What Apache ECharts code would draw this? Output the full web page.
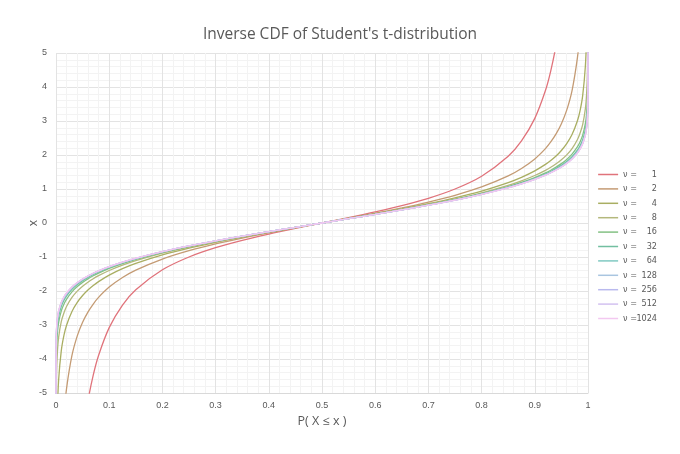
<!DOCTYPE html>
<html>
<head>
<meta charset="utf-8">
<script src="https://cdn.jsdelivr.net/npm/echarts@6/dist/echarts.min.js"></script>
<style>
html,body{margin:0;padding:0;background:#fff;}
#main{width:680px;height:454px;}
</style>
</head>
<body>
<div id="main"></div>
<script>
// probability points (x axis)
var P = [0.0000001, 0.0001, 0.001, 0.0025, 0.005, 0.01, 0.015, 0.02, 0.03, 0.04, 0.05, 0.06, 0.07, 0.08, 0.1, 0.125, 0.15, 0.2, 0.25, 0.3, 0.35, 0.4, 0.45,
	0.5,
	0.55, 0.6, 0.65, 0.7, 0.75, 0.8, 0.85, 0.875, 0.9, 0.92, 0.93, 0.94, 0.95, 0.96, 0.97, 0.98, 0.985, 0.99, 0.995, 0.9975, 0.999, 0.9999, 0.9999999];

var nu = [1, 2, 4, 8, 16, 32, 64, 128, 256, 512, 1024];

// quantile x for each nu
var t1 = [null, null, null, null, null, -31.82, -21.20, -15.89, -10.58, -7.916, -6.314, -5.242, -4.474, -3.895, -3.078, -2.414, -1.963, -1.376, -1.000, -0.727, -0.510, -0.325, -0.158,
	0,
	0.158, 0.325, 0.510, 0.727, 1.000, 1.376, 1.963, 2.414, 3.078, 3.895, 4.474, 5.242, 6.314, 7.916, 10.58, 15.89, 21.20, 31.82, null, null, null, null, null];
var t2 = [null, -70.71, -22.33, -14.09, -9.925, -6.965, -5.643, -4.849, -3.896, -3.320, -2.920, -2.620, -2.383, -2.189, -1.886, -1.604, -1.386, -1.061, -0.816, -0.617, -0.445, -0.289, -0.142,
	0,
	0.142, 0.289, 0.445, 0.617, 0.816, 1.061, 1.386, 1.604, 1.886, 2.189, 2.383, 2.620, 2.920, 3.320, 3.896, 4.849, 5.643, 6.965, 9.925, 14.09, 22.33, 70.71, null];
var t4 = [-73, -13.03, -7.173, -5.598, -4.604, -3.747, -3.298, -2.999, -2.601, -2.333, -2.132, -1.971, -1.838, -1.723, -1.533, -1.344, -1.190, -0.941, -0.741, -0.569, -0.414, -0.271, -0.134,
	0,
	0.134, 0.271, 0.414, 0.569, 0.741, 0.941, 1.190, 1.344, 1.533, 1.723, 1.838, 1.971, 2.132, 2.333, 2.601, 2.999, 3.298, 3.747, 4.604, 5.598, 7.173, 13.03, 73];
var t8 = [-16.9, -7.12, -4.501, -3.833, -3.355, -2.896, -2.64, -2.449, -2.189, -2.004, -1.860, -1.740, -1.638, -1.549, -1.397, -1.240, -1.108, -0.889, -0.706, -0.546, -0.399, -0.262, -0.130,
	0,
	0.130, 0.262, 0.399, 0.546, 0.706, 0.889, 1.108, 1.240, 1.397, 1.549, 1.638, 1.740, 1.860, 2.004, 2.189, 2.449, 2.64, 2.896, 3.355, 3.833, 4.501, 7.12, 16.9];
var t16 = [-7.6, -5.13, -3.686, -3.252, -2.921, -2.583, -2.381, -2.236, -2.024, -1.869, -1.746, -1.643, -1.553, -1.474, -1.337, -1.193, -1.071, -0.865, -0.690, -0.535, -0.392, -0.258, -0.128,
	0,
	0.128, 0.258, 0.392, 0.535, 0.690, 0.865, 1.071, 1.193, 1.337, 1.474, 1.553, 1.643, 1.746, 1.869, 2.024, 2.236, 2.381, 2.583, 2.921, 3.252, 3.686, 5.13, 7.6];
var t32 = [-6.4, -4.35, -3.365, -3.015, -2.738, -2.449, -2.271, -2.141, -1.950, -1.808, -1.694, -1.598, -1.514, -1.438, -1.309, -1.171, -1.054, -0.853, -0.682, -0.530, -0.389, -0.256, -0.127,
	0,
	0.127, 0.256, 0.389, 0.530, 0.682, 0.853, 1.054, 1.171, 1.309, 1.438, 1.514, 1.598, 1.694, 1.808, 1.950, 2.141, 2.271, 2.449, 2.738, 3.015, 3.365, 4.35, 6.4];
var t64 = [-5.8, -3.98, -3.222, -2.908, -2.655, -2.386, -2.219, -2.097, -1.915, -1.779, -1.669, -1.576, -1.495, -1.422, -1.295, -1.161, -1.045, -0.847, -0.678, -0.527, -0.387, -0.254, -0.126,
	0,
	0.126, 0.254, 0.387, 0.527, 0.678, 0.847, 1.045, 1.161, 1.295, 1.422, 1.495, 1.576, 1.669, 1.779, 1.915, 2.097, 2.219, 2.386, 2.655, 2.908, 3.222, 3.98, 5.8];
var t128 = [-5.5, -3.83, -3.155, -2.856, -2.615, -2.356, -2.194, -2.075, -1.898, -1.765, -1.657, -1.565, -1.485, -1.413, -1.289, -1.155, -1.040, -0.845, -0.676, -0.525, -0.386, -0.254, -0.126,
	0,
	0.126, 0.254, 0.386, 0.525, 0.676, 0.845, 1.040, 1.155, 1.289, 1.413, 1.485, 1.565, 1.657, 1.765, 1.898, 2.075, 2.194, 2.356, 2.615, 2.856, 3.155, 3.83, 5.5];
var t256 = [-5.35, -3.77, -3.122, -2.831, -2.595, -2.341, -2.182, -2.065, -1.889, -1.758, -1.651, -1.560, -1.481, -1.409, -1.285, -1.153, -1.038, -0.843, -0.675, -0.525, -0.385, -0.253, -0.126,
	0,
	0.126, 0.253, 0.385, 0.525, 0.675, 0.843, 1.038, 1.153, 1.285, 1.409, 1.481, 1.560, 1.651, 1.758, 1.889, 2.065, 2.182, 2.341, 2.595, 2.831, 3.122, 3.77, 5.35];
var t512 = [-5.27, -3.745, -3.106, -2.819, -2.586, -2.333, -2.176, -2.059, -1.885, -1.754, -1.648, -1.558, -1.478, -1.407, -1.284, -1.151, -1.037, -0.843, -0.675, -0.524, -0.385, -0.253, -0.126,
	0,
	0.126, 0.253, 0.385, 0.524, 0.675, 0.843, 1.037, 1.151, 1.284, 1.407, 1.478, 1.558, 1.648, 1.754, 1.885, 2.059, 2.176, 2.333, 2.586, 2.819, 3.106, 3.745, 5.27];
var t1024 = [-5.23, -3.73, -3.098, -2.813, -2.581, -2.330, -2.173, -2.057, -1.883, -1.753, -1.646, -1.556, -1.477, -1.406, -1.283, -1.150, -1.036, -0.842, -0.674, -0.524, -0.385, -0.253, -0.126,
	0,
	0.126, 0.253, 0.385, 0.524, 0.674, 0.842, 1.036, 1.150, 1.283, 1.406, 1.477, 1.556, 1.646, 1.753, 1.883, 2.057, 2.173, 2.330, 2.581, 2.813, 3.098, 3.73, 5.23];

var quantiles = [t1, t2, t4, t8, t16, t32, t64, t128, t256, t512, t1024];
var colors = ['#e0737b', '#c49b74', '#a9ae62', '#b4b87c', '#84c184', '#72bfa0', '#80c9c2', '#a9c5e0', '#b9b9ee', '#d3c1f0', '#f3c8f0'];

var chart = echarts.init(document.getElementById('main'));

var series = [];
for (var i = 0; i < nu.length; i++) {
	var pts = [];
	for (var j = 0; j < P.length; j++) {
		pts.push([P[j], quantiles[i][j]]);
	}
	series.push({
		name: 'ν = ' + nu[i],
		type: 'line',
		data: pts,
		symbol: 'none',
		smooth: 0.3,
		clip: true,
		lineStyle: {width: 1.3, color: colors[i]},
		itemStyle: {color: colors[i]}
	});
}

chart.setOption({
	animation: false,
	title: {
		text: "Inverse CDF of Student's t-distribution",
		left: 'center',
		top: 22,
		textStyle: {fontFamily: 'Open Sans', fontWeight: 'normal', fontSize: 15.5, color: '#595959'}
	},
	legend: {
		orient: 'vertical',
		right: 18,
		top: 165,
		icon: 'rect',
		itemWidth: 20,
		itemHeight: 1.5,
		itemGap: 5.4,
		data: series.map(function(s){ return s.name; }),
		formatter: function(name){
			return 'ν =' + '{n|' + name.split('= ')[1] + '}';
		},
		textStyle: {
			fontFamily: 'DejaVu Sans Condensed',
			fontSize: 9,
			color: '#595959',
			rich: {n: {width: 20, align: 'right', fontSize: 9, color: '#595959'}}
		}
	},
	grid: {left: 56, right: 92, top: 53, bottom: 61},
	xAxis: {
		type: 'value',
		min: 0,
		max: 1,
		interval: 0.1,
		name: 'P( X ≤ x )',
		nameLocation: 'middle',
		nameGap: 22,
		nameTextStyle: {fontFamily: 'Open Sans', fontSize: 12.5, color: '#595959'},
		axisLine: {onZero: false, lineStyle: {color: '#d9d9d9'}},
		axisTick: {show: false},
		axisLabel: {fontSize: 9, color: '#595959', margin: 8},
		splitLine: {lineStyle: {color: '#e3e3e3'}},
		minorTick: {show: false, splitNumber: 5},
		minorSplitLine: {show: true, lineStyle: {color: '#f3f3f3'}}
	},
	yAxis: {
		type: 'value',
		min: -5,
		max: 5,
		interval: 1,
		name: 'x',
		nameLocation: 'middle',
		nameGap: 16,
		nameMoveOverlap: false,
		nameRotate: 90,
		nameTextStyle: {fontFamily: 'Open Sans', fontSize: 12, color: '#595959'},
		axisLine: {show: false},
		axisTick: {show: false},
		axisLabel: {fontSize: 9, color: '#595959', margin: 9},
		splitLine: {lineStyle: {color: '#e3e3e3'}},
		minorTick: {show: false, splitNumber: 5},
		minorSplitLine: {show: true, lineStyle: {color: '#f3f3f3'}}
	},
	series: series
});
</script>
</body>
</html>
